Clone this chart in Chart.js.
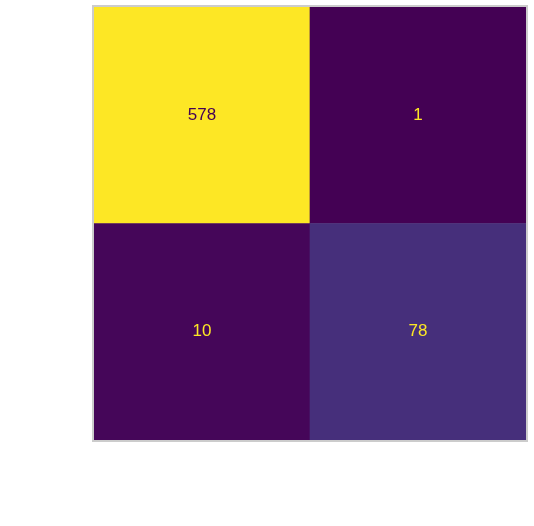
<!DOCTYPE html>
<html>
<head>
<meta charset="utf-8">
<script src="https://cdn.jsdelivr.net/npm/chart.js@4.4.1/dist/chart.umd.min.js"></script>
<style>
  html, body { margin: 0; padding: 0; background: #fff; }
  #wrap { width: 534px; height: 526px; position: relative; }
</style>
</head>
<body>
<div id="wrap"><canvas id="cm"></canvas></div>
<script>
// classes (columns = predicted, rows = true)
var classes = ['0', '1'];
var rowTop = [578, 1];    // true class 0
var rowBottom = [10, 78]; // true class 1

// viridis stops
var viridis = ['#440154', '#482878', '#3e4989', '#31688e', '#26828e',
               '#1f9e89', '#35b779', '#6ece58', '#b5de2b', '#fde725'];

function hexToRgb(h) {
  return [parseInt(h.substr(1, 2), 16), parseInt(h.substr(3, 2), 16), parseInt(h.substr(5, 2), 16)];
}

var allVals = rowTop.concat(rowBottom);
var vmin = Math.min.apply(null, allVals);
var vmax = Math.max.apply(null, allVals);

function colorFor(v) {
  var t = (v - vmin) / (vmax - vmin);
  var pos = t * (viridis.length - 1);
  var i = Math.min(Math.floor(pos), viridis.length - 2);
  var f = pos - i;
  var a = hexToRgb(viridis[i]), b = hexToRgb(viridis[i + 1]);
  var c = a.map(function (x, k) { return Math.round(x + (b[k] - x) * f); });
  return 'rgb(' + c.join(',') + ')';
}

function textFor(v) {
  return (v - vmin) / (vmax - vmin) > 0.5 ? '#440154' : '#fde725';
}

// write counts in the middle of each cell
var cellText = {
  id: 'cellText',
  afterDatasetsDraw: function (chart) {
    var ctx = chart.ctx;
    ctx.save();
    ctx.font = '17px "Liberation Sans", Arial, sans-serif';
    ctx.textAlign = 'center';
    ctx.textBaseline = 'middle';
    chart.data.datasets.forEach(function (ds, di) {
      var meta = chart.getDatasetMeta(di);
      meta.data.forEach(function (bar, i) {
        var v = ds.counts[i];
        var yMid = (bar.y + bar.base) / 2;
        ctx.fillStyle = textFor(v);
        ctx.fillText(String(v), bar.x, yMid);
      });
    });
    ctx.restore();
  }
};

// grey frame around the matrix
var frame = {
  id: 'frame',
  afterDraw: function (chart) {
    var a = chart.chartArea;
    var ctx = chart.ctx;
    ctx.save();
    ctx.strokeStyle = '#cccccc';
    ctx.lineWidth = 2;
    ctx.strokeRect(a.left - 1, a.top - 1, a.right - a.left + 2, a.bottom - a.top + 2);
    ctx.restore();
  }
};

new Chart(document.getElementById('cm'), {
  type: 'bar',
  data: {
    labels: classes,
    datasets: [
      {
        label: 'true 1',
        data: rowBottom.map(function () { return 1; }),
        counts: rowBottom,
        backgroundColor: rowBottom.map(colorFor)
      },
      {
        label: 'true 0',
        data: rowTop.map(function () { return 1; }),
        counts: rowTop,
        backgroundColor: rowTop.map(colorFor)
      }
    ]
  },
  options: {
    responsive: true,
    maintainAspectRatio: false,
    animation: false,
    layout: { padding: { left: 94, top: 7, right: 8, bottom: 86 } },
    datasets: { bar: { barPercentage: 1, categoryPercentage: 1, borderWidth: 0 } },
    plugins: { legend: { display: false }, tooltip: { enabled: false } },
    scales: {
      x: { stacked: true, display: false },
      y: { stacked: true, display: false, min: 0, max: classes.length }
    }
  },
  plugins: [cellText, frame]
});
</script>
</body>
</html>
